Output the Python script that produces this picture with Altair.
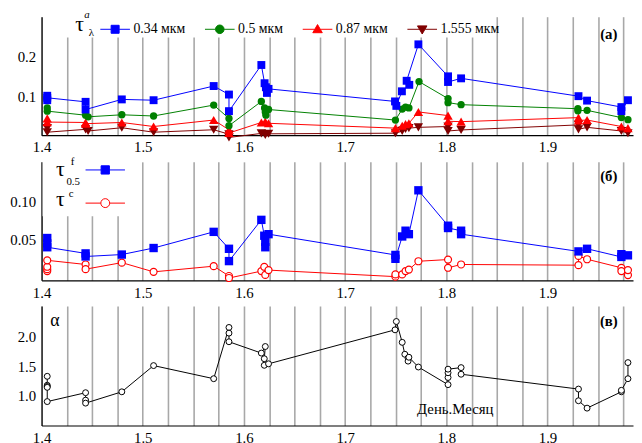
import altair as alt
import pandas as pd

# ---------------- data ----------------
# panel (a): aerosol optical depth at 4 wavelengths
p1_034_x = [1.4056, 1.4056, 1.4056, 1.4435, 1.4435, 1.4793, 1.5107, 1.5701, 1.5852, 1.5852,
            1.6172, 1.6204, 1.6217, 1.6227, 1.6243, 1.7493, 1.7506, 1.7561, 1.7634, 1.7608, 1.7724,
            1.8017, 1.8017, 1.8146, 1.9306, 1.9391, 1.9730, 1.9730, 1.9795]
p1_034_y = [0.092, 0.103, 0.098, 0.088, 0.069, 0.094, 0.092, 0.127, 0.106, 0.065,
            0.179, 0.134, 0.124, 0.110, 0.120, 0.089, 0.078, 0.114, 0.130, 0.140, 0.230,
            0.151, 0.137, 0.146, 0.102, 0.091, 0.075, 0.065, 0.092]

p1_05_x = [1.4056, 1.4056, 1.4435, 1.4460, 1.4793, 1.5107, 1.5701, 1.5852, 1.5852,
           1.6172, 1.6204, 1.6211, 1.6217, 1.6243, 1.7497, 1.7564, 1.7597, 1.7630, 1.7730,
           1.8017, 1.8017, 1.8146, 1.9300, 1.9300, 1.9391, 1.9730, 1.9795]
p1_05_y = [0.073, 0.065, 0.055, 0.051, 0.056, 0.053, 0.080, 0.047, 0.029,
           0.089, 0.073, 0.063, 0.055, 0.069, 0.043, 0.070, 0.075, 0.073, 0.138,
           0.096, 0.086, 0.081, 0.071, 0.066, 0.067, 0.049, 0.044]

p1_087_x = [1.4056, 1.4056, 1.4435, 1.4435, 1.4793, 1.5107, 1.5701, 1.5852, 1.5852,
            1.6172, 1.6211, 1.6243, 1.7497, 1.7564, 1.7597, 1.7630, 1.7724,
            1.8017, 1.8017, 1.8146, 1.9306, 1.9306, 1.9391, 1.9730, 1.9795]
p1_087_y = [0.047, 0.038, 0.037, 0.034, 0.037, 0.027, 0.043, 0.019, 0.011,
            0.037, 0.039, 0.035, 0.023, 0.029, 0.033, 0.035, 0.063,
            0.054, 0.040, 0.039, 0.049, 0.042, 0.043, 0.027, 0.023]

p1_1555_x = [1.4056, 1.4056, 1.4435, 1.4460, 1.4793, 1.5107, 1.5701, 1.5852, 1.5852,
             1.6172, 1.6211, 1.6243, 1.7497, 1.7564, 1.7597, 1.7630, 1.7724,
             1.8017, 1.8017, 1.8146, 1.9306, 1.9306, 1.9391, 1.9730, 1.9795]
p1_1555_y = [0.023, 0.013, 0.020, 0.016, 0.024, 0.013, 0.019, 0.008, 0.000,
             0.010, 0.006, 0.009, 0.0105, 0.016, 0.021, 0.023, 0.025,
             0.027, 0.016, 0.0185, 0.031, 0.020, 0.025, 0.016, 0.0105]

# panel (б): fine and coarse mode
p2_f_x = [1.4056, 1.4056, 1.4056, 1.4435, 1.4435, 1.4793, 1.5107, 1.5701, 1.5852, 1.5852,
          1.6172, 1.6201, 1.6211, 1.6211, 1.6243, 1.7497, 1.7497, 1.7564, 1.7597, 1.7630, 1.7724,
          1.8017, 1.8017, 1.8146, 1.8146, 1.9306, 1.9391, 1.9730, 1.9730, 1.9795]
p2_f_y = [0.052, 0.045, 0.040, 0.032, 0.028, 0.0305, 0.039, 0.060, 0.038, 0.022,
          0.0756, 0.055, 0.047, 0.040, 0.057, 0.030, 0.025, 0.054, 0.0615, 0.057, 0.114,
          0.068, 0.065, 0.0615, 0.057, 0.0346, 0.038, 0.0274, 0.031, 0.0295]

p2_c_x = [1.4056, 1.4056, 1.4056, 1.4056, 1.4435, 1.4435, 1.4793, 1.5107, 1.5701, 1.5852, 1.5852,
          1.6172, 1.6201, 1.6211, 1.6243, 1.7497, 1.7497, 1.7564, 1.7597, 1.7630, 1.7724,
          1.8017, 1.8017, 1.8146, 1.9306, 1.9306, 1.9391, 1.9730, 1.9730, 1.9795, 1.9795]
p2_c_y = [0.009, 0.0115, 0.0146, 0.023, 0.0176, 0.0115, 0.020, 0.008, 0.0154, 0.0026, 0.000,
          0.009, 0.0146, 0.004, 0.0103, 0.0018, 0.0047, 0.0047, 0.009, 0.011, 0.0218,
          0.024, 0.0133, 0.0176, 0.0167, 0.0287, 0.0244, 0.0133, 0.009, 0.0038, 0.0103]

# panel (в): Angstrom exponent
p3_x = [1.4056, 1.4056, 1.4056, 1.4056, 1.4056, 1.4435, 1.4435, 1.4435, 1.4793, 1.5107, 1.5701,
        1.5852, 1.5852, 1.5852, 1.6172, 1.6211, 1.6201, 1.6201, 1.6243,
        1.7493, 1.7506, 1.7564, 1.7590, 1.7622, 1.7622, 1.7630, 1.7724,
        1.8017, 1.8017, 1.8017, 1.8017, 1.8146, 1.8146, 1.9306, 1.9306, 1.9391,
        1.9730, 1.9730, 1.9795, 1.9795]
p3_y = [1.33, 1.18, 1.16, 1.145, 0.906, 1.055, 0.93, 0.88, 1.07, 1.51, 1.29,
        2.15, 2.055, 1.91, 1.72, 1.83, 1.625, 1.515, 1.54,
        2.11, 2.25, 1.90, 1.70, 1.635, 1.585, 1.65, 1.486,
        1.19, 1.31, 1.39, 1.45, 1.476, 1.365, 1.116, 0.92, 0.796,
        1.07, 1.095, 1.29, 1.56]

legend1_labels = ["0.34 мкм", "0.5 мкм", "0.87 мкм", "1.555 мкм"]
legend2_labels = ["tau_f", "tau_c"]
x_tick_values = [1.4, 1.425, 1.45, 1.475, 1.5, 1.525, 1.55, 1.575, 1.6, 1.625, 1.65, 1.675,
                 1.7, 1.725, 1.75, 1.775, 1.8, 1.825, 1.85, 1.875, 1.9, 1.925, 1.95, 1.975]

# ---------------- styling ----------------
FONT = "Liberation Serif"
W = 599
XDOM = [1.4, 1.9845]
BLUE, GREEN, RED, DRED = "#0000ff", "#008000", "#ff0000", "#800000"

xscale = alt.Scale(domain=XDOM, nice=False, zero=False)


def xaxis():
    return alt.Axis(values=x_tick_values,
                    labelExpr="abs(datum.value*10 - round(datum.value*10)) < 0.01 ? format(datum.value, '.1f') : ''",
                    grid=True, gridColor="#a8a8a8", gridWidth=1.6, ticks=False,
                    labelFlush=False, labelOverlap=False, labelPadding=5, title=None,
                    domainColor="black", domainWidth=1.2)


def yaxis(vals, fmt):
    return alt.Axis(values=vals, format=fmt, grid=False, ticks=False, labelPadding=6,
                    title=None, domainColor="black", domainWidth=1.2)


def series(xs, ys, yscale, yax, color, shape, size, fill=None, sw=1.0):
    df = pd.DataFrame({"x": xs, "y": ys, "i": list(range(len(xs)))})
    base = alt.Chart(df).encode(
        x=alt.X("x:Q", scale=xscale, axis=xaxis()),
        y=alt.Y("y:Q", scale=yscale, axis=yax),
    )
    line = base.mark_line(color=color, strokeWidth=1).encode(order="i:Q")
    if fill is None:
        pts = base.mark_point(shape=shape, size=size, filled=True, color=color, opacity=1)
    else:
        pts = base.mark_point(shape=shape, size=size, filled=True, fill=fill, stroke=color,
                              strokeWidth=sw, opacity=1)
    return line, pts


dummy = pd.DataFrame({"a": [0]})


def txt(s, x, y, size, style="normal", weight="normal", baseline="alphabetic", opacity=1):
    return alt.Chart(dummy).mark_text(text=s, font=FONT, fontSize=size, fontStyle=style,
                                      fontWeight=weight, color="black", align="center",
                                      baseline=baseline, opacity=opacity).encode(
        x=alt.value(x), y=alt.value(y))


def white_box(x1, x2, y1, y2):
    return alt.Chart(dummy).mark_rect(color="white").encode(
        x=alt.value(x1), x2=alt.value(x2), y=alt.value(y1), y2=alt.value(y2))


# ---------------- panel (a) ----------------
y1scale = alt.Scale(domain=[0.0056, 0.2983], nice=False, zero=False)
y1ax = yaxis([0.1, 0.2], ".1f")
l1, q1 = series(p1_034_x, p1_034_y, y1scale, y1ax, BLUE, "square", 64)
l2, q2 = series(p1_05_x, p1_05_y, y1scale, y1ax, GREEN, "circle", 55)
l3, q3 = series(p1_087_x, p1_087_y, y1scale, y1ax, RED, "triangle-up", 90)
l4, q4 = series(p1_1555_x, p1_1555_y, y1scale, y1ax, DRED, "triangle-down", 90)

paths1 = [
    "M-1,0H-0.27M0.27,0H1M-0.27,-0.27H0.27V0.27H-0.27Z",
    "M-1,0H-0.29M0.29,0H1M0.29,0A0.29,0.29,0,1,1,-0.29,0A0.29,0.29,0,1,1,0.29,0Z",
    "M-1,0H-0.2M0.2,0H1M0,-0.32L0.32,0.23L-0.32,0.23Z",
    "M-1,0H-0.2M0.2,0H1M0,0.32L0.32,-0.23L-0.32,-0.23Z",
]
cols1 = [BLUE, GREEN, RED, DRED]
leg1 = alt.Legend(orient="none", legendX=59, legendY=-3, direction="horizontal", title=None,
                  labelFont=FONT, labelFontSize=14, labelColor="black", labelOffset=3,
                  columnPadding=17, padding=0, symbolSize=900, symbolStrokeWidth=1)
lg1_df = pd.DataFrame({"lg1": legend1_labels, "x": [0.0] * 4, "y": [0.1] * 4})
legend_layer1 = alt.Chart(lg1_df).mark_point(filled=True, size=900, opacity=1, clip=True,
                                             strokeWidth=1).encode(
    x=alt.X("x:Q", scale=xscale, axis=xaxis()),
    y=alt.Y("y:Q", scale=y1scale, axis=y1ax),
    fill=alt.Fill("lg1:N", scale=alt.Scale(domain=legend1_labels, range=cols1), legend=leg1),
    stroke=alt.Stroke("lg1:N", scale=alt.Scale(domain=legend1_labels, range=cols1), legend=leg1),
    shape=alt.Shape("lg1:N", scale=alt.Scale(domain=legend1_labels, range=paths1), legend=leg1),
)

panel1 = alt.layer(
    white_box(20, 450, 0, 21),
    l4, l3, l2, l1, q4, q3, q2, q1,
    legend_layer1,
    txt("τ", 38.5, 14.7, 22),
    txt("a", 46, 1.3, 11, style="italic"),
    txt("λ", 50.5, 19.7, 11),
    txt("(a)", 574.5, 18, 15, weight="bold", baseline="middle"),
).properties(width=W, height=120)

# ---------------- panel (б) ----------------
y2scale = alt.Scale(domain=[-0.003, 0.151], nice=False, zero=False)
y2ax = yaxis([0.05, 0.10], ".2f")
m1, r1 = series(p2_f_x, p2_f_y, y2scale, y2ax, BLUE, "square", 72)
m2, r2 = series(p2_c_x, p2_c_y, y2scale, y2ax, RED, "circle", 50, fill="white", sw=1.2)

paths2 = [
    "M-1.33,0H-0.28M0.28,0H1.33M-0.28,-0.28H0.28V0.28H-0.28Z",
    "M-1.33,0H-0.3M0.3,0H1.33M0.3,0A0.3,0.3,0,1,1,-0.3,0A0.3,0.3,0,1,1,0.3,0Z",
]
leg2 = alt.Legend(orient="none", legendX=49, legendY=-7.3, direction="vertical", title=None,
                  labelExpr="''", labelOffset=0, rowPadding=11.6, padding=0,
                  symbolSize=900, symbolStrokeWidth=1)
lg2_df = pd.DataFrame({"lg2": legend2_labels, "x": [0.0] * 2, "y": [0.05] * 2})
legend_layer2 = alt.Chart(lg2_df).mark_point(filled=True, size=900, opacity=1, clip=True,
                                             strokeWidth=1).encode(
    x=alt.X("x:Q", scale=xscale, axis=xaxis()),
    y=alt.Y("y:Q", scale=y2scale, axis=y2ax),
    fill=alt.Fill("lg2:N", scale=alt.Scale(domain=legend2_labels, range=[BLUE, "white"]), legend=leg2),
    stroke=alt.Stroke("lg2:N", scale=alt.Scale(domain=legend2_labels, range=[BLUE, RED]), legend=leg2),
    shape=alt.Shape("lg2:N", scale=alt.Scale(domain=legend2_labels, range=paths2), legend=leg2),
)

panel2 = alt.layer(
    white_box(1, 95, 0, 55),
    m2, m1, r2, r1,
    legend_layer2,
    txt("τ", 19, 14.7, 22),
    txt("f", 31.5, 3, 11),
    txt("0.5", 32, 23, 11),
    txt("τ", 19, 44.7, 22),
    txt("c", 30, 35.3, 11),
    txt("(б)", 574.5, 14, 15, weight="bold", baseline="middle"),
).properties(width=W, height=120)

# ---------------- panel (в) ----------------
y3scale = alt.Scale(domain=[0.505, 2.51], nice=False, zero=False)
y3ax = yaxis([1.0, 1.5, 2.0], ".1f")
n1, s1 = series(p3_x, p3_y, y3scale, y3ax, "black", "circle", 36, fill="white", sw=1.0)

panel3 = alt.layer(
    n1, s1,
    txt(".", 300, -7, 10, baseline="top", opacity=0),
    txt("α", 13.5, 20, 18),
    txt("День.Месяц", 419, 109, 15),
    txt("(в)", 574.5, 15, 15, weight="bold", baseline="middle"),
).properties(width=W, height=121)

chart = alt.vconcat(panel1, panel2, panel3, spacing=-1).resolve_scale(
    fill="independent", stroke="independent", shape="independent", color="independent"
).properties(
    padding={"left": 1, "top": -2, "right": 0, "bottom": 0}, background="white"
).configure_view(stroke=None).configure_axis(
    labelFont=FONT, labelFontSize=15, labelColor="black"
)

chart.save("out.html", embed_options={"renderer": "svg", "actions": False})
